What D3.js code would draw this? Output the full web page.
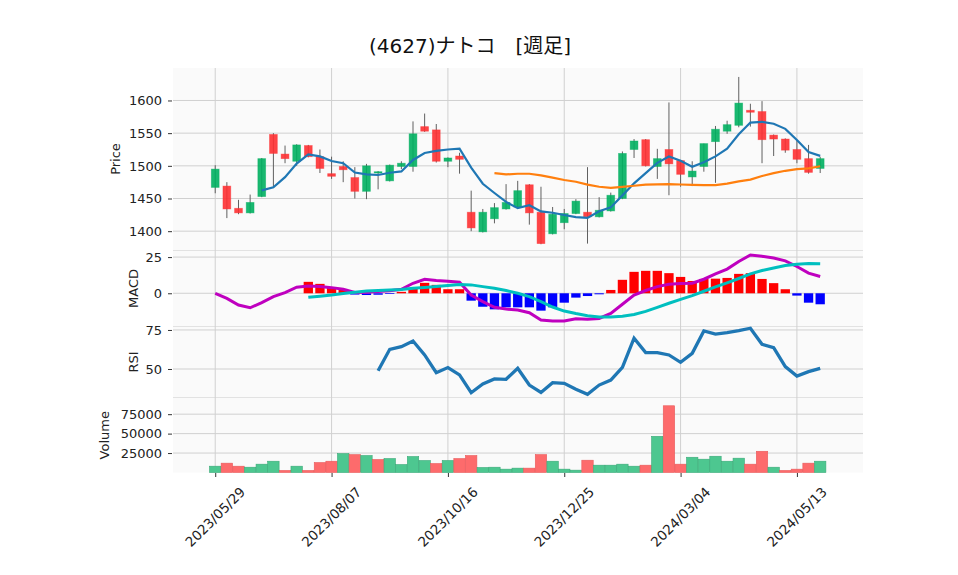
<!DOCTYPE html>
<html><head><meta charset="utf-8">
<script src="https://cdn.jsdelivr.net/npm/d3@7"></script>
<style>
body{margin:0;background:#fff}
svg{display:block}
text{font-family:"DejaVu Sans",sans-serif}
</style>
</head><body><svg id="c" width="958" height="575"></svg>
<script>
const title = "(4627)ナトコ\u3000[週足]";
const dates = ["2023/05/29","2023/06/05","2023/06/12","2023/06/19","2023/06/26","2023/07/03","2023/07/10","2023/07/17","2023/07/24","2023/07/31",
"2023/08/07","2023/08/14","2023/08/21","2023/08/28","2023/09/04","2023/09/11","2023/09/18","2023/09/25","2023/10/02","2023/10/09",
"2023/10/16","2023/10/23","2023/10/30","2023/11/06","2023/11/13","2023/11/20","2023/11/27","2023/12/04","2023/12/11","2023/12/18",
"2023/12/25","2024/01/01","2024/01/08","2024/01/15","2024/01/22","2024/01/29","2024/02/05","2024/02/12","2024/02/19","2024/02/26",
"2024/03/04","2024/03/11","2024/03/18","2024/03/25","2024/04/01","2024/04/08","2024/04/15","2024/04/22","2024/04/29","2024/05/06",
"2024/05/13","2024/05/20","2024/05/27"];
const opens = [1467,1469,1435,1428,1453,1548,1518,1507,1531,1514,1488,1499,1482,1461,1489,1477,1499,1499,1560,1555,
1507,1515,1429,1399,1419,1434,1437,1471,1429,1396,1413,1427,1429,1422,1431,1450,1525,1540,1499,1525,
1508,1483,1499,1537,1553,1562,1585,1583,1547,1541,1525,1511,1496];
const highs = [1501,1475,1448,1456,1512,1550,1531,1533,1532,1525,1514,1507,1498,1503,1492,1502,1507,1568,1580,1564,
1513,1520,1462,1434,1443,1472,1477,1472,1468,1437,1434,1449,1498,1452,1459,1522,1541,1541,1526,1597,
1509,1507,1534,1561,1569,1636,1595,1599,1548,1542,1539,1532,1514];
const lows = [1458,1420,1426,1427,1452,1466,1504,1500,1513,1489,1480,1475,1450,1449,1464,1476,1495,1491,1552,1505,
1498,1488,1400,1398,1412,1433,1436,1410,1380,1395,1403,1426,1381,1421,1430,1449,1512,1499,1480,1455,
1468,1469,1491,1474,1549,1559,1560,1504,1515,1520,1504,1488,1489];
const closes = [1495,1434,1428,1444,1511,1519,1511,1532,1514,1496,1484,1494,1461,1500,1491,1501,1504,1549,1553,1507,
1512,1510,1405,1429,1436,1444,1462,1428,1381,1426,1427,1446,1422,1432,1455,1519,1538,1500,1511,1503,
1487,1492,1534,1556,1563,1596,1582,1540,1541,1524,1510,1490,1511];
const volumes = [8100,12000,8100,6800,10700,14500,2600,8100,2600,12800,14500,24300,23000,21800,16700,17900,10200,20500,15400,11500,
15400,17900,21800,6400,6800,4300,5600,5600,23000,14500,4300,3000,15800,9400,9400,10700,8100,9400,46500,85800,
10700,19600,17100,20900,14500,18400,10700,27300,6800,2600,4300,12000,14500];
const ma5 = [null,null,null,null,1462.4,1467.2,1482.6,1503.4,1517.4,1514.4,1507.4,1504.0,1489.8,1487.0,1486.0,1489.4,1491.4,1509.0,1519.6,1522.8,
1525.0,1526.2,1497.4,1472.6,1458.4,1444.8,1435.2,1439.8,1430.2,1428.2,1424.8,1421.6,1420.4,1430.6,1436.4,1454.8,1473.2,1488.8,1504.6,1514.2,
1507.8,1498.6,1505.4,1514.4,1526.4,1548.2,1566.2,1567.4,1564.4,1556.6,1539.4,1521.0,1515.2];
const ma25 = [null,null,null,null,null,null,null,null,null,null,null,null,null,null,null,null,null,null,null,null,
null,null,null,null,1488.8,1486.8,1487.9,1487.9,1485.4,1482.0,1478.3,1475.7,1471.3,1468.0,1466.4,1467.8,1469.5,1471.1,1471.5,1472.0,
1471.4,1471.0,1470.4,1470.5,1472.7,1476.1,1479.0,1484.4,1488.8,1492.4,1495.0,1496.1,1499.4];
const macdLine = [0,-3.5,-8.1,-10.0,-6.5,-2.3,0.5,4.2,5.1,4.6,3.9,2.8,0.5,0.7,1.2,1.8,2.8,6.9,9.7,8.8,
8.3,7.6,-1.2,-5.8,-9.7,-10.9,-11.6,-13.4,-18.5,-19.2,-19.2,-17.6,-18.0,-17.4,-13.9,-7.6,-1.2,1.9,4.6,6.2,
6.7,6.9,9.7,13.4,16.7,22.0,26.4,25.5,24.3,22.4,18.5,13.9,11.6];
const signalLine = [null,null,null,null,null,null,null,null,-2.8,-2.0,-1.2,-0.2,0.7,1.5,2.0,2.3,2.6,3.5,4.0,4.6,
5.3,6.0,5.8,4.6,3.5,1.9,0.0,-2.3,-5.8,-9.5,-12.3,-14.0,-15.5,-16.4,-16.4,-15.9,-14.6,-12.5,-9.7,-6.9,
-4.2,-1.6,1.4,4.4,7.2,10.2,13.4,15.7,17.4,19.2,20.1,20.6,20.4];
const histogram = [null,null,null,null,null,null,null,null,7.9,6.5,3.9,2.3,-0.9,-1.2,-1.0,-0.5,1.0,3.7,7.2,5.8,
2.8,2.8,-5.1,-9.3,-11.1,-9.7,-9.7,-9.7,-12.0,-9.7,-6.5,-3.0,-1.9,-0.7,2.3,9.3,14.8,15.5,15.5,13.9,
11.3,8.5,9.9,10.1,10.6,13.4,13.9,9.9,7.0,2.8,-1.6,-6.5,-7.6];
const rsi = [null,null,null,null,null,null,null,null,null,null,null,null,null,null,48.9,62.6,64.3,67.9,59.0,47.6,
50.9,46.2,34.8,40.4,43.6,43.4,50.4,39.7,35.0,41.2,40.8,37.0,33.8,39.7,42.9,51.1,69.7,60.5,60.5,59.0,
54.3,60.0,74.4,72.4,73.3,74.6,76.1,65.8,63.7,51.5,45.5,48.3,50.4];
const xTickIdx = [0,10,20,30,40,50];
const priceTicks = [1400,1450,1500,1550,1600];
const macdTicks = [0,25];
const rsiTicks = [50,75];
const volTicks = [25000,50000,75000];

const L = 173, R = 863;
const svg = d3.select('#c');
const x = d3.scaleLinear().domain([-3.63,55.68]).range([L,R]);
const step = x(1)-x(0);
const idx = d3.range(dates.length);

const yP = d3.scaleLinear().domain([1371.2,1649.7]).range([250,68]);
const yM = d3.scaleLinear().domain([-22.6,29.2]).range([326,251]);
const yR = d3.scaleLinear().domain([32.05,76.9]).range([397,327]);
const yV = d3.scaleLinear().domain([0,95800]).range([472.5,398]);
const panels = [
  {y:yP, ticks:priceTicks, label:"Price", lx:115},
  {y:yM, ticks:macdTicks, label:"MACD", lx:133},
  {y:yR, ticks:rsiTicks, label:"RSI", lx:133},
  {y:yV, ticks:volTicks, label:"Volume", lx:104}
];
const gridColor = "#d0d0d0";
const fontSize = "13px";

panels.forEach(p => {
  const [b,t] = p.y.range();
  svg.append('rect').attr('x',L).attr('y',t).attr('width',R-L).attr('height',b-t).attr('fill','#fafafa');
  svg.append('g').selectAll('line').data(p.ticks).join('line')
    .attr('x1',L).attr('x2',R).attr('y1',d=>p.y(d)).attr('y2',d=>p.y(d))
    .attr('stroke',gridColor).attr('stroke-width',1);
  const ax = svg.append('g').attr('transform',`translate(${L-1},0)`)
    .call(d3.axisLeft(p.y).tickValues(p.ticks).tickSize(4).tickPadding(6).tickFormat(d3.format('d')));
  ax.select('.domain').remove();
  ax.selectAll('text').style('font-size',fontSize).attr('fill','#222');
  ax.selectAll('line').attr('stroke','#333');
  svg.append('text').attr('transform',`translate(${p.lx},${(b+t)/2}) rotate(-90)`)
    .attr('text-anchor','middle').attr('dy','0.35em').style('font-size',fontSize).attr('fill','#222').text(p.label);
});
// separators
svg.append('g').selectAll('line').data([250.5,326.5,397.5]).join('line')
  .attr('x1',L).attr('x2',R).attr('y1',d=>d).attr('y2',d=>d).attr('stroke','#e2e2e2').attr('stroke-width',1);
// vertical grid
svg.append('g').selectAll('line').data(xTickIdx).join('line')
  .attr('x1',d=>x(d)).attr('x2',d=>x(d)).attr('y1',68).attr('y2',472.5)
  .attr('stroke',gridColor).attr('stroke-width',1);

// candles
const upC = '#00b060', dnC = '#fe3032';
const cg = svg.append('g');
cg.selectAll('line').data(idx).join('line')
  .attr('x1',i=>x(i)).attr('x2',i=>x(i)).attr('y1',i=>yP(highs[i])).attr('y2',i=>yP(lows[i]))
  .attr('stroke','#606060').attr('stroke-width',1);
const bw = step*0.67;
cg.selectAll('rect').data(idx).join('rect')
  .attr('x',i=>x(i)-bw/2).attr('width',bw)
  .attr('y',i=>yP(Math.max(opens[i],closes[i])))
  .attr('height',i=>Math.max(1,Math.abs(yP(opens[i])-yP(closes[i]))))
  .attr('fill',i=>closes[i]>=opens[i]?upC:dnC).attr('fill-opacity',0.9)
  .attr('stroke',i=>closes[i]>=opens[i]?upC:dnC).attr('stroke-opacity',0.5).attr('stroke-width',0.8);

const lineGen = (ys) => d3.line().defined(d=>d!=null).x((d,i)=>x(i)).y(d=>ys(d));
svg.append('path').datum(ma5).attr('d',lineGen(yP)).attr('fill','none').attr('stroke','#1f77b4').attr('stroke-width',2.2);
svg.append('path').datum(ma25).attr('d',lineGen(yP)).attr('fill','none').attr('stroke','#ff7f0e').attr('stroke-width',2.2);

// MACD
const hw = step*0.8;
svg.append('g').selectAll('rect').data(idx.filter(i=>histogram[i]!=null)).join('rect')
  .attr('x',i=>x(i)-hw/2).attr('width',hw)
  .attr('y',i=>Math.min(yM(0),yM(histogram[i])))
  .attr('height',i=>Math.abs(yM(histogram[i])-yM(0)))
  .attr('fill',i=>histogram[i]>=0?'#ff0000':'#0000ff');
svg.append('path').datum(macdLine).attr('d',lineGen(yM)).attr('fill','none').attr('stroke','#bf00bf').attr('stroke-width',3);
svg.append('path').datum(signalLine).attr('d',lineGen(yM)).attr('fill','none').attr('stroke','#00bfbf').attr('stroke-width',3);

// RSI
svg.append('path').datum(rsi).attr('d',lineGen(yR)).attr('fill','none').attr('stroke','#1f77b4').attr('stroke-width',3.3);

// Volume
const vw = step*0.98;
svg.append('g').selectAll('rect').data(idx).join('rect')
  .attr('x',i=>x(i)-vw/2).attr('width',vw)
  .attr('y',i=>yV(volumes[i])).attr('height',i=>yV(0)-yV(volumes[i]))
  .attr('fill',i=>(i===0||closes[i]>=closes[i-1])?'#4dc790':'#fd6b6c')
  .attr('stroke',i=>(i===0||closes[i]>=closes[i-1])?'#3aaa78':'#e85a5b').attr('stroke-width',0.6);

// x axis
const xa = svg.append('g').attr('transform','translate(0,473)')
  .call(d3.axisBottom(x).tickValues(xTickIdx).tickSize(4).tickFormat(''));
xa.select('.domain').remove();
xa.selectAll('line').attr('stroke','#333');
svg.append('g').selectAll('text').data(xTickIdx).join('text')
  .attr('transform',i=>`translate(${x(i)},517) rotate(-45)`)
  .attr('text-anchor','middle').attr('dy','0.35em').style('font-size','13.5px').attr('fill','#222')
  .text(i=>dates[i]);

// title
svg.append('text').attr('x',470).attr('y',53).attr('text-anchor','middle')
  .style('font-family','"DejaVu Sans","Noto Sans CJK JP",sans-serif').style('font-size','20px').attr('fill','#111').text(title);
</script>
</body></html>
